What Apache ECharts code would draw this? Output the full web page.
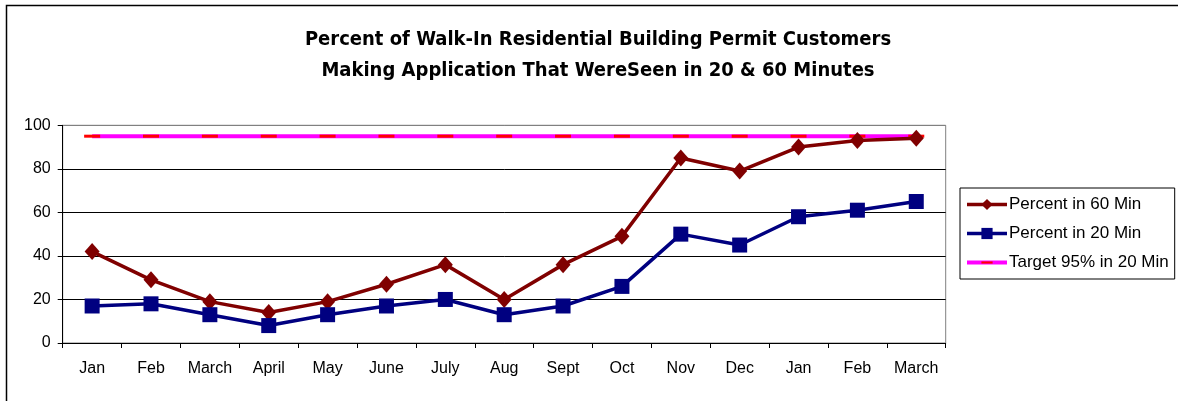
<!DOCTYPE html>
<html lang="en">
<head>
<meta charset="UTF-8">
<title>Walk-In Residential Building Permit Customers</title>
<style>
  html, body { margin: 0; padding: 0; background: #fff; }
  #chart { width: 1178px; height: 401px; }
</style>
</head>
<body>
<div id="chart"></div>
<script src="https://cdn.jsdelivr.net/npm/echarts@6/dist/echarts.min.js"></script>
<script>
// months, two fiscal-year spans
var months = ['Jan', 'Feb', 'March', 'April', 'May', 'June', 'July', 'Aug', 'Sept', 'Oct', 'Nov', 'Dec', 'Jan', 'Feb', 'March'];
var pct60 = [42, 29, 19, 14, 19, 27, 36, 20, 36, 49, 85, 79, 90, 93, 94];
var pct20 = [17, 18, 13, 8, 13, 17, 20, 13, 17, 26, 50, 45, 58, 61, 65];
var target = [95, 95, 95, 95, 95, 95, 95, 95, 95, 95, 95, 95, 95, 95, 95];
var yTicks = [0, 20, 40, 60, 80, 100];

var font = "'Liberation Sans', Arial, sans-serif";

// excel style "dash" marker: bbox kept square by the two moveTo points
var dashSymbol = 'path://M0,0M16,16M0,6.5L16,6.5L16,9.5L0,9.5Z';

var myChart = echarts.init(document.getElementById('chart'));

var option = {
  backgroundColor: '#fff',
  animation: false,
  title: {
    text: 'Percent of Walk-In Residential Building Permit Customers\nMaking Application That WereSeen in 20 & 60 Minutes',
    left: 593,
    top: 19,
    textAlign: 'center',
    textStyle: {
      fontFamily: "'Liberation Sans Narrow', 'Arial Narrow', 'DejaVu Sans Condensed', sans-serif",
      fontWeight: 'bold',
      fontSize: 20,
      lineHeight: 31,
      color: '#000'
    }
  },
  graphic: [{
    type: 'rect',
    shape: { x: 6.5, y: 5.5, width: 1300, height: 600 },
    style: { fill: 'none', stroke: '#000', lineWidth: 1.5 },
    silent: true,
    z: -1
  }],
  legend: {
    orient: 'vertical',
    left: 960,
    top: 188,
    padding: [8, 6, 8, 5],
    borderColor: '#000',
    borderWidth: 1,
    itemWidth: 40,
    itemHeight: 14,
    itemGap: 12,
    lineStyle: { width: 3.5 },
    data: [
      'Percent in 60 Min',
      'Percent in 20 Min',
      { name: 'Target 95% in 20 Min', lineStyle: { width: 4 } }
    ],
    textStyle: { fontFamily: font, fontSize: 17, lineHeight: 17, color: '#000', padding: [0, 0, 0, -3] }
  },
  grid: {
    left: 62.7,
    right: 232.3,
    top: 125.3,
    bottom: 58,
    show: true,
    borderColor: '#808080',
    borderWidth: 1
  },
  xAxis: {
    type: 'category',
    data: months,
    boundaryGap: true,
    axisLine: { lineStyle: { color: '#000', width: 1 } },
    axisTick: { show: true, interval: 0, length: 5, lineStyle: { color: '#000' } },
    axisLabel: { interval: 0, margin: 18, fontFamily: font, fontSize: 16, color: '#000' }
  },
  yAxis: {
    type: 'value',
    min: yTicks[0],
    max: yTicks[yTicks.length - 1],
    interval: 20,
    axisLine: { show: true, lineStyle: { color: '#000', width: 1 } },
    axisTick: { show: true, length: 5, lineStyle: { color: '#000' } },
    axisLabel: { margin: 12, fontFamily: font, fontSize: 16, color: '#000' },
    splitLine: { show: true, lineStyle: { color: ['#000', '#000', '#000', '#000', '#000', '#808080'], width: 1 } }
  },
  series: [{
    name: 'Target 95% in 20 Min',
    type: 'line',
    data: target,
    symbol: dashSymbol,
    symbolSize: 16,
    showAllSymbol: true,
    lineStyle: { color: '#FF00FF', width: 4 },
    itemStyle: { color: '#FF0000' },
    z: 2
  }, {
    name: 'Percent in 60 Min',
    type: 'line',
    data: pct60,
    symbol: 'diamond',
    symbolSize: [15, 17],
    showAllSymbol: true,
    lineStyle: { color: '#800000', width: 3.5 },
    itemStyle: { color: '#800000' },
    z: 3
  }, {
    name: 'Percent in 20 Min',
    type: 'line',
    data: pct20,
    symbol: 'rect',
    symbolSize: 15,
    showAllSymbol: true,
    lineStyle: { color: '#000080', width: 3.5 },
    itemStyle: { color: '#000080' },
    z: 4
  }]
};

myChart.setOption(option);
</script>
</body>
</html>
